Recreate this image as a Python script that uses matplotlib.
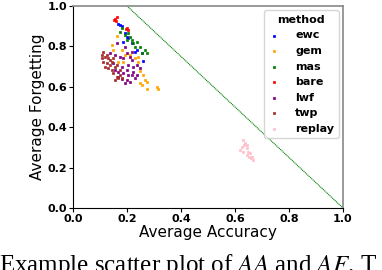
import matplotlib
matplotlib.use("Agg")
import matplotlib.pyplot as plt

plt.rcParams["mathtext.fontset"] = "stix"

methods = ["ewc", "gem", "mas", "bare", "lwf", "twp", "replay"]
colors = ["blue", "orange", "green", "red", "purple", "brown", "pink"]

ewc_x = [0.168, 0.181, 0.194, 0.186, 0.205, 0.217, 0.236, 0.254, 0.260, 0.230, 0.175, 0.200]
ewc_y = [0.911, 0.901, 0.865, 0.824, 0.840, 0.815, 0.782, 0.766, 0.730, 0.774, 0.905, 0.845]

gem_x = [0.162, 0.143, 0.149, 0.168, 0.186, 0.193, 0.230, 0.242, 0.248, 0.260, 0.267, 0.273,
         0.254, 0.248, 0.273, 0.310, 0.316, 0.242, 0.211, 0.180]
gem_y = [0.852, 0.807, 0.782, 0.724, 0.724, 0.757, 0.741, 0.724, 0.676, 0.659, 0.634, 0.625,
         0.609, 0.617, 0.588, 0.597, 0.588, 0.750, 0.757, 0.782]

mas_x = [0.174, 0.180, 0.193, 0.205, 0.211, 0.217, 0.223, 0.236, 0.248, 0.254, 0.273, 0.267,
         0.199, 0.230]
mas_y = [0.873, 0.890, 0.856, 0.865, 0.848, 0.832, 0.815, 0.824, 0.799, 0.766, 0.766, 0.782,
         0.832, 0.799]

bare_x = [0.156, 0.162, 0.150, 0.199, 0.203, 0.195, 0.160]
bare_y = [0.936, 0.945, 0.930, 0.890, 0.880, 0.885, 0.925]

lwf_x = [0.162, 0.137, 0.156, 0.174, 0.186, 0.199, 0.211, 0.217, 0.205, 0.180, 0.168, 0.199,
         0.223, 0.236, 0.217, 0.199, 0.211, 0.230, 0.223, 0.168, 0.149, 0.186, 0.248, 0.236,
         0.156, 0.193, 0.180, 0.205, 0.217, 0.193]
lwf_y = [0.815, 0.766, 0.757, 0.749, 0.741, 0.766, 0.749, 0.733, 0.708, 0.700, 0.675, 0.683,
         0.700, 0.708, 0.658, 0.634, 0.625, 0.642, 0.675, 0.650, 0.716, 0.667, 0.692, 0.658,
         0.683, 0.617, 0.637, 0.658, 0.774, 0.799]

twp_x = [0.112, 0.106, 0.119, 0.131, 0.112, 0.125, 0.137, 0.131, 0.143, 0.149, 0.162, 0.168,
         0.174, 0.156, 0.119, 0.106, 0.137, 0.149, 0.143, 0.162, 0.174, 0.125, 0.156, 0.180]
twp_y = [0.774, 0.757, 0.749, 0.741, 0.724, 0.716, 0.708, 0.692, 0.683, 0.667, 0.650, 0.642,
         0.658, 0.700, 0.700, 0.741, 0.733, 0.741, 0.724, 0.708, 0.683, 0.757, 0.634, 0.642]

replay_x = [0.628, 0.637, 0.625, 0.643, 0.649, 0.656, 0.662, 0.665, 0.631, 0.619, 0.643, 0.653,
            0.633, 0.646, 0.658]
replay_y = [0.337, 0.320, 0.304, 0.295, 0.279, 0.271, 0.254, 0.238, 0.279, 0.287, 0.262, 0.254,
            0.312, 0.312, 0.246]

xs = [ewc_x, gem_x, mas_x, bare_x, lwf_x, twp_x, replay_x]
ys = [ewc_y, gem_y, mas_y, bare_y, lwf_y, twp_y, replay_y]

line_x = [0.2, 1.0]
line_y = [1.0, 0.0]

ticks = [0.0, 0.2, 0.4, 0.6, 0.8, 1.0]
tick_labels = ["0.0", "0.2", "0.4", "0.6", "0.8", "1.0"]

fig = plt.figure(figsize=(3.82, 2.70), dpi=100)
ax = fig.add_axes([73/382, 1 - 208/270, 270/382, 202/270])

ax.plot(line_x, line_y, linestyle=(0, (1, 0.6)), color="green", linewidth=0.8, zorder=1)
for m, c, x, y in zip(methods, colors, xs, ys):
    ax.scatter(x, y, s=3, marker="s", color=c, edgecolors=c, linewidths=0.5, label=m, zorder=2)

ax.set_xlim(0, 1)
ax.set_ylim(0, 1)
ax.set_xticks(ticks)
ax.set_xticklabels(tick_labels, fontweight="bold", fontsize=8)
ax.set_yticks(ticks)
ax.set_yticklabels(tick_labels, fontweight="bold", fontsize=8)
ax.tick_params(length=3, pad=1)
ax.set_xlabel("Average Accuracy", fontsize=11, labelpad=1)
ax.set_ylabel("Average Forgetting", fontsize=11, labelpad=2)
for s in ["top", "right"]:
    ax.spines[s].set_color("#888888")
    ax.spines[s].set_linewidth(1.2)

leg = ax.legend(title="method", loc="upper right", title_fontsize=8,
                prop={"weight": "bold", "size": 8}, markerscale=1.0,
                handlelength=1.0, handletextpad=1.4, labelspacing=0.5,
                borderaxespad=0.4)
leg.get_title().set_fontweight("bold")

fig.text(-0.003, -2/270, "Example scatter plot of $AA$ and $AF$. T", fontsize=18,
         family="Liberation Serif", va="baseline", ha="left")

fig.savefig("out.png", dpi=100)
